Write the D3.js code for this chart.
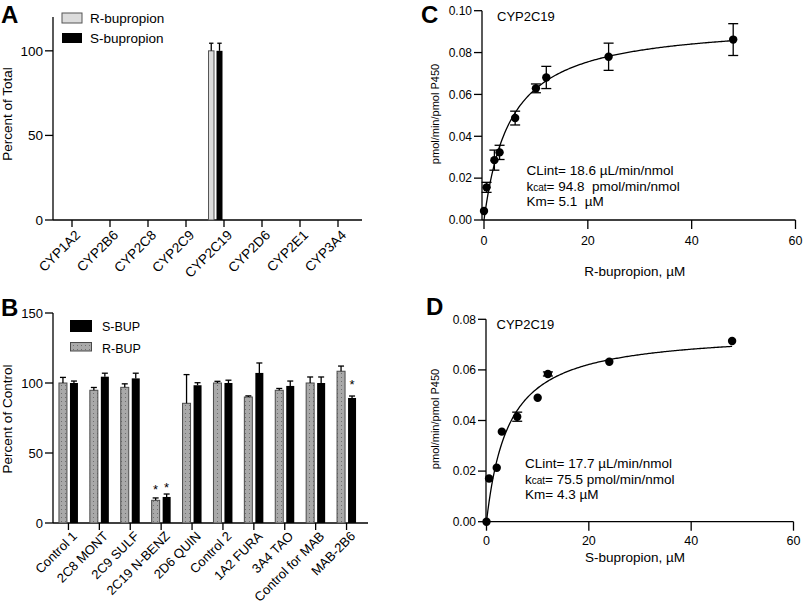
<!DOCTYPE html>
<html>
<head>
<meta charset="utf-8">
<script src="https://cdn.jsdelivr.net/npm/d3@7"></script>
<style>
body { margin: 0; background: #fff; }
text { font-family: "Liberation Sans", Arial, sans-serif; fill: #000; white-space: pre; }
</style>
</head>
<body>
<svg id="fig" width="803" height="609"></svg>
<script>
// panel A - percent of total
var cypNames = ["CYP1A2", "CYP2B6", "CYP2C8", "CYP2C9", "CYP2C19", "CYP2D6", "CYP2E1", "CYP3A4"];
var rTotal = [0, 0, 0, 0, 100, 0, 0, 0];
var rTotalErr = [0, 0, 0, 0, 4.5, 0, 0, 0];
var sTotal = [0, 0, 0, 0, 100, 0, 0, 0];
var sTotalErr = [0, 0, 0, 0, 4.5, 0, 0, 0];
var ticksA = [0, 50, 100];

// panel B - inhibitors, percent of control
var inhibNames = ["Control 1", "2C8 MONT", "2C9 SULF", "2C19 N-BENZ", "2D6 QUIN", "Control 2",
                  "1A2 FURA", "3A4 TAO", "Control for MAB", "MAB-2B6"];
var rBup = [100, 94.8, 96.9, 16.2, 85.5, 100, 90, 94.8, 100, 108.4];
var rBupErr = [4, 2, 2.5, 1.7, 20.5, 1.2, 0.8, 1.3, 4.3, 3.7];
var sBup = [100, 104.5, 103.3, 18.6, 98.4, 100, 107.2, 97.9, 100, 89.3];
var sBupErr = [1.4, 2.5, 3.7, 2.1, 1.8, 2, 7.1, 3.5, 4.3, 1.4];
var stars = [
  { cat: "2C19 N-BENZ", series: "R", y: 26 },
  { cat: "2C19 N-BENZ", series: "S", y: 27.5 },
  { cat: "MAB-2B6", series: "S", y: 101 }
];
var ticksB = [0, 50, 100, 150];

// panels C, D - kinetics
var rConc = [0, 0.5, 2, 3, 6, 10, 12, 24, 48];
var rRate = [0.0043, 0.0156, 0.0286, 0.0323, 0.0487, 0.0629, 0.0681, 0.078, 0.0862];
var rSem = [0, 0.0024, 0.0048, 0.0034, 0.0033, 0.0021, 0.0053, 0.0065, 0.0076];
var rKcat = 94.8, rKm = 5.1, rClint = 18.6;

var sConc = [0, 0.5, 2, 3, 6, 10, 12, 24, 48];
var sRate = [0, 0.0171, 0.0213, 0.0356, 0.0415, 0.049, 0.0584, 0.0632, 0.0714];
var sSem = [0, 0, 0, 0, 0.0018, 0, 0.0008, 0, 0];
var sKcat = 75.5, sKm = 4.3, sClint = 17.7;

var ticksX = [0, 20, 40, 60];

var svg = d3.select("#fig");
svg.append("rect").attr("width", 803).attr("height", 609).attr("fill", "#fff");

var defs = svg.append("defs");
var pat = defs.append("pattern").attr("id", "dots")
    .attr("patternUnits", "userSpaceOnUse")
    .attr("width", 4).attr("height", 4);
pat.append("rect").attr("width", 4).attr("height", 4).attr("fill", "#a9a9a9");
pat.append("rect").attr("x", 1).attr("y", 1).attr("width", 1).attr("height", 1).attr("fill", "#6f6f6f");

function line(g, x1, y1, x2, y2) {
  g.append("line").attr("x1", x1).attr("y1", y1).attr("x2", x2).attr("y2", y2)
    .attr("stroke", "#000").attr("stroke-width", 1.3);
}

function panelLetter(txt, x, y) {
  svg.append("text").attr("x", x).attr("y", y).attr("font-size", 24)
    .attr("font-weight", "bold").text(txt);
}

// simple y axis: vertical line + ticks + labels
function yAxis(g, y, ax, ticks, fmt, fs, top) {
  line(g, ax, y(0), ax, top);
  ticks.forEach(function(t) {
    line(g, ax - 8, y(t), ax, y(t));
    g.append("text").attr("x", ax - 10).attr("y", y(t)).attr("dy", "0.36em")
      .attr("text-anchor", "end").attr("font-size", fs).text(fmt(t));
  });
}

// ---------- panel A ----------
var gA = svg.append("g");
var xA = d3.scaleBand().domain(cypNames).range([53, 357]);
var yA = d3.scaleLinear().domain([0, 120]).range([220, 17]);

yAxis(gA, yA, 53, ticksA, d3.format("d"), 13.5, 17);
line(gA, 53, 220, 362, 220);
cypNames.forEach(function(c) {
  var cx = xA(c) + xA.bandwidth() / 2;
  line(gA, cx, 220, cx, 227);
  gA.append("text")
    .attr("transform", "translate(" + (cx + 9) + "," + 236 + ") rotate(-45)")
    .attr("text-anchor", "end").attr("font-size", 13.5).text(c);
});

cypNames.forEach(function(c, i) {
  var cx = xA(c) + xA.bandwidth() / 2;
  if (rTotal[i] > 0) {
    var rx = cx - 15.5, sx = cx - 7.5;
    gA.append("rect").attr("x", rx).attr("y", yA(rTotal[i])).attr("width", 5.5)
      .attr("height", yA(0) - yA(rTotal[i])).attr("fill", "#dcdcdc").attr("stroke", "#555").attr("stroke-width", 1);
    gA.append("rect").attr("x", sx).attr("y", yA(sTotal[i])).attr("width", 6)
      .attr("height", yA(0) - yA(sTotal[i])).attr("fill", "#000");
    [[rx + 2.75, rTotal[i], rTotalErr[i]], [sx + 3, sTotal[i], sTotalErr[i]]].forEach(function(e) {
      line(gA, e[0], yA(e[1]), e[0], yA(e[1] + e[2]));
      line(gA, e[0] - 2.2, yA(e[1] + e[2]), e[0] + 2.2, yA(e[1] + e[2]));
    });
  }
});

gA.append("rect").attr("x", 62).attr("y", 13).attr("width", 20).attr("height", 10)
  .attr("fill", "#dcdcdc").attr("stroke", "#555");
gA.append("rect").attr("x", 62).attr("y", 33).attr("width", 20).attr("height", 10).attr("fill", "#000");
gA.append("text").attr("x", 90).attr("y", 23).attr("font-size", 13.5).text("R-bupropion");
gA.append("text").attr("x", 90).attr("y", 43).attr("font-size", 13.5).text("S-bupropion");
gA.append("text").attr("transform", "translate(12,114) rotate(-90)")
  .attr("text-anchor", "middle").attr("font-size", 13.5).text("Percent of Total");
panelLetter("A", 1, 23);

// ---------- panel B ----------
var gB = svg.append("g");
var xB = d3.scaleBand().domain(inhibNames).range([53, 362]);
var yB = d3.scaleLinear().domain([0, 150]).range([523, 313]);

yAxis(gB, yB, 53, ticksB, d3.format("d"), 13, 313);
line(gB, 53, 523, 368, 523);

function barB(cx, v, err, fill, stroke) {
  gB.append("rect").attr("x", cx - 4).attr("y", yB(v)).attr("width", 8)
    .attr("height", yB(0) - yB(v)).attr("fill", fill)
    .attr("stroke", stroke).attr("stroke-width", stroke == "none" ? 0 : 1);
  line(gB, cx, yB(v), cx, yB(v + err));
  line(gB, cx - 3, yB(v + err), cx + 3, yB(v + err));
}

inhibNames.forEach(function(c, i) {
  var cx = xB(c) + xB.bandwidth() / 2;
  barB(cx - 5.5, rBup[i], rBupErr[i], "url(#dots)", "#4a4a4a");
  barB(cx + 5.5, sBup[i], sBupErr[i], "#000", "none");
  line(gB, cx, 523, cx, 530);
  gB.append("text")
    .attr("transform", "translate(" + (cx + 9.5) + "," + 537 + ") rotate(-45)")
    .attr("text-anchor", "end").attr("font-size", 13).text(c);
});

stars.forEach(function(s) {
  var cx = xB(s.cat) + xB.bandwidth() / 2 + (s.series == "R" ? -5.5 : 5.5);
  gB.append("text").attr("x", cx).attr("y", yB(s.y) + 7)
    .attr("text-anchor", "middle").attr("font-size", 13).text("*");
});

gB.append("rect").attr("x", 70).attr("y", 320).attr("width", 22).attr("height", 12).attr("fill", "#000");
gB.append("rect").attr("x", 70.5).attr("y", 342.5).attr("width", 21).attr("height", 8.5)
  .attr("fill", "url(#dots)").attr("stroke", "#4a4a4a");
gB.append("text").attr("x", 102).attr("y", 330.5).attr("font-size", 12.5).text("S-BUP");
gB.append("text").attr("x", 102).attr("y", 353).attr("font-size", 12.5).text("R-BUP");
gB.append("text").attr("transform", "translate(12,419) rotate(-90)")
  .attr("text-anchor", "middle").attr("font-size", 13.5).text("Percent of Control");
panelLetter("B", 1, 316);

// ---------- panels C and D ----------
function kineticPanel(opt) {
  var g = svg.append("g");
  var x = d3.scaleLinear().domain([0, 60]).range(opt.xr);
  var y = d3.scaleLinear().domain([0, opt.ymax]).range(opt.yr);
  var ax = opt.ax;

  yAxis(g, y, ax, d3.range(0, opt.ymax + 1e-9, 0.02), d3.format(".2f"), 12, opt.yr[1]);
  line(g, ax, y(0), opt.xr[1], y(0));
  ticksX.forEach(function(t) {
    line(g, x(t), y(0), x(t), y(0) + 9);
    g.append("text").attr("x", x(t)).attr("y", y(0) + opt.tickDy)
      .attr("text-anchor", "middle").attr("font-size", 12.5).text(t);
  });

  // Michaelis-Menten fit with the printed kcat and Km
  var vmax = opt.kcat / 1000;
  var fit = d3.range(0, 48.01, 0.25).map(function(c) { return [c, vmax * c / (opt.km + c)]; });
  g.append("path").datum(fit)
    .attr("d", d3.line().x(function(d) { return x(d[0]); }).y(function(d) { return y(d[1]); }))
    .attr("fill", "none").attr("stroke", "#000").attr("stroke-width", 1.3);

  opt.conc.forEach(function(c, i) {
    var e = opt.sem[i];
    if (e > 0) {
      line(g, x(c), y(opt.rate[i] - e), x(c), y(opt.rate[i] + e));
      line(g, x(c) - 5, y(opt.rate[i] + e), x(c) + 5, y(opt.rate[i] + e));
      line(g, x(c) - 5, y(opt.rate[i] - e), x(c) + 5, y(opt.rate[i] - e));
    }
    g.append("circle").attr("cx", x(c)).attr("cy", y(opt.rate[i])).attr("r", 4.2).attr("fill", "#000");
  });

  g.append("text").attr("x", opt.titleX).attr("y", opt.titleY).attr("font-size", 13).text("CYP2C19");

  g.append("text").attr("x", opt.annX).attr("y", opt.annY).attr("font-size", 13.5)
    .text("CLint= " + opt.clint + " \u00b5L/min/nmol");
  var t2 = g.append("text").attr("x", opt.annX).attr("y", opt.annY + 16).attr("font-size", 13.5);
  t2.append("tspan").text("k");
  t2.append("tspan").attr("font-size", 10).text("cat");
  t2.append("tspan").text("= " + opt.kcat + opt.gap + "pmol/min/nmol");
  g.append("text").attr("x", opt.annX).attr("y", opt.annY + 31.5).attr("font-size", 13.5)
    .text("Km= " + opt.km + opt.gap + "\u00b5M");

  g.append("text").attr("x", (opt.xr[0] + opt.xr[1]) / 2 - 5).attr("y", opt.xlabY)
    .attr("text-anchor", "middle").attr("font-size", 13.5).text(opt.xlab);
  g.append("text").attr("transform", "translate(438.5," + opt.ylabY + ") rotate(-90)")
    .attr("text-anchor", "middle").attr("font-size", 11).text("pmol/min/pmol P450");
}

kineticPanel({
  conc: rConc, rate: rRate, sem: rSem, kcat: rKcat, km: rKm, clint: rClint, gap: "  ",
  xr: [484, 795.5], yr: [220, 10.7], ymax: 0.1, ax: 482, tickDy: 24.5,
  titleX: 497, titleY: 20.5, annX: 526.5, annY: 174.5,
  xlab: "R-bupropion, \u00b5M", xlabY: 276, ylabY: 114
});
kineticPanel({
  conc: sConc, rate: sRate, sem: sSem, kcat: sKcat, km: sKm, clint: sClint, gap: " ",
  xr: [486.5, 793.5], yr: [521.7, 319.3], ymax: 0.08, ax: 486, tickDy: 23.5,
  titleX: 496.5, titleY: 329, annX: 525, annY: 467.5,
  xlab: "S-bupropion, \u00b5M", xlabY: 561.5, ylabY: 419
});

panelLetter("C", 421, 23);
panelLetter("D", 426, 315);
</script>
</body>
</html>
